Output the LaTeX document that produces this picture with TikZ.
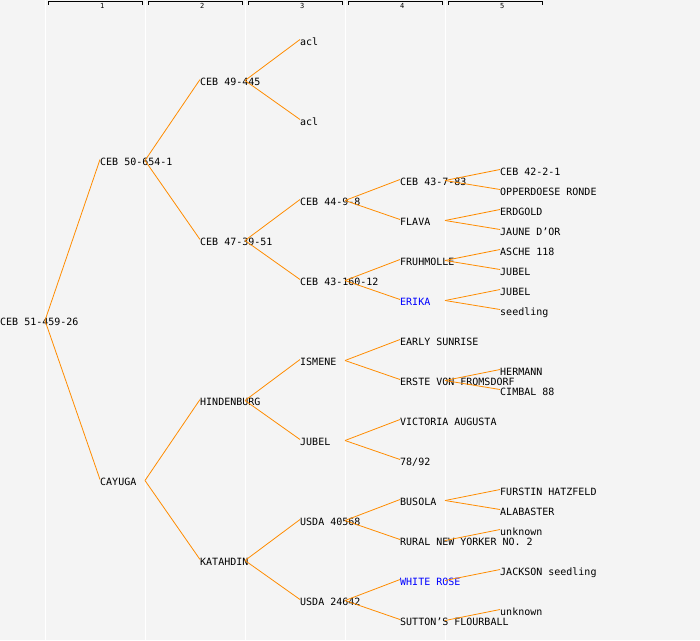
\documentclass[tikz,border=0pt]{standalone}
\usepackage{fontspec}
\setmonofont{DejaVu Sans Mono}
\definecolor{bgc}{HTML}{F4F4F4}
\definecolor{linec}{HTML}{FF8C00}
\tikzset{
  lbl/.style={anchor=west, inner sep=0pt, text height=7pt, text depth=0pt,
    font=\ttfamily\fontsize{10}{12}\selectfont},
  hilite/.style={lbl, text=blue},
  hdr/.style={anchor=west, inner sep=0pt, text height=5pt, text depth=0pt,
    font=\ttfamily\fontsize{7}{8}\selectfont},
  edge/.style={draw=linec, line width=0.8pt},
  sepline/.style={draw=white, line width=1pt},
  bracket/.style={draw=black, line width=0.8pt}
}
\begin{document}
\begin{tikzpicture}[x=1pt, y=-1pt]
  \fill[bgc] (0,0) rectangle (700,640);
  \useasboundingbox (0,0) rectangle (700,640);
  % column separators and headers
  \foreach \x in {45,145,245,345,445}
    \draw[sepline] (\x,0) -- (\x,640);
  \foreach \i in {1,...,5} {
    \draw[bracket] ({100*\i-52},4.5) -- ({100*\i-52},1.5) -- ({100*\i+42},1.5) -- ({100*\i+42},4.5);
    \node[hdr] (col\i) at (100*\i,6) {\i};
  }
  % generation 0 and 1
  \node[lbl] (root) at (0,322) {CEB 51-459-26};
  \node[lbl] (ceb50) at (100,162) {CEB 50-654-1};
  \node[lbl] (cayuga) at (100,482) {CAYUGA};
  % generation 2
  \node[lbl] (ceb49) at (200,82) {CEB 49-445};
  \node[lbl] (ceb47) at (200,242) {CEB 47-39-51};
  \node[lbl] (hindenburg) at (200,402) {HINDENBURG};
  \node[lbl] (katahdin) at (200,562) {KATAHDIN};
  % generation 3
  \node[lbl] (acla) at (300,42) {acl};
  \node[lbl] (aclb) at (300,122) {acl};
  \node[lbl] (ceb44) at (300,202) {CEB 44-9-8};
  \node[lbl] (ceb43a) at (300,282) {CEB 43-160-12};
  \node[lbl] (ismene) at (300,362) {ISMENE};
  \node[lbl] (jubela) at (300,442) {JUBEL};
  \node[lbl] (usdaa) at (300,522) {USDA 40568};
  \node[lbl] (usdab) at (300,602) {USDA 24642};
  % generation 4
  \node[lbl] (ceb43b) at (400,182) {CEB 43-7-83};
  \node[lbl] (flava) at (400,222) {FLAVA};
  \node[lbl] (fruhmolle) at (400,262) {FRUHMOLLE};
  \node[hilite] (erika) at (400,302) {ERIKA};
  \node[lbl] (early) at (400,342) {EARLY SUNRISE};
  \node[lbl] (erste) at (400,382) {ERSTE VON FROMSDORF};
  \node[lbl] (victoria) at (400,422) {VICTORIA AUGUSTA};
  \node[lbl] (nr7892) at (400,462) {78/92};
  \node[lbl] (busola) at (400,502) {BUSOLA};
  \node[lbl] (rural) at (400,542) {RURAL NEW YORKER NO. 2};
  \node[hilite] (whiterose) at (400,582) {WHITE ROSE};
  \node[lbl] (sutton) at (400,622) {SUTTON’S FLOURBALL};
  % generation 5
  \node[lbl] (ceb42) at (500,172) {CEB 42-2-1};
  \node[lbl] (opper) at (500,192) {OPPERDOESE RONDE};
  \node[lbl] (erdgold) at (500,212) {ERDGOLD};
  \node[lbl] (jaune) at (500,232) {JAUNE D’OR};
  \node[lbl] (asche) at (500,252) {ASCHE 118};
  \node[lbl] (jubelb) at (500,272) {JUBEL};
  \node[lbl] (jubelc) at (500,292) {JUBEL};
  \node[lbl] (seedling) at (500,312) {seedling};
  \node[lbl] (hermann) at (500,372) {HERMANN};
  \node[lbl] (cimbal) at (500,392) {CIMBAL 88};
  \node[lbl] (furstin) at (500,492) {FURSTIN HATZFELD};
  \node[lbl] (alabaster) at (500,512) {ALABASTER};
  \node[lbl] (unknowna) at (500,532) {unknown};
  \node[lbl] (jackson) at (500,572) {JACKSON seedling};
  \node[lbl] (unknownb) at (500,612) {unknown};
  % parent -> child links
  \foreach \p/\c in {root/ceb50, root/cayuga,
      ceb50/ceb49, ceb50/ceb47, cayuga/hindenburg, cayuga/katahdin,
      ceb49/acla, ceb49/aclb, ceb47/ceb44, ceb47/ceb43a,
      hindenburg/ismene, hindenburg/jubela, katahdin/usdaa, katahdin/usdab,
      ceb44/ceb43b, ceb44/flava, ceb43a/fruhmolle, ceb43a/erika,
      ismene/early, ismene/erste, jubela/victoria, jubela/nr7892,
      usdaa/busola, usdaa/rural, usdab/whiterose, usdab/sutton,
      ceb43b/ceb42, ceb43b/opper, flava/erdgold, flava/jaune,
      fruhmolle/asche, fruhmolle/jubelb, erika/jubelc, erika/seedling,
      erste/hermann, erste/cimbal, busola/furstin, busola/alabaster,
      rural/unknowna, whiterose/jackson, sutton/unknownb}
    \draw[edge] ([xshift=45pt,yshift=1.5pt]\p.west) -- ([yshift=2.5pt]\c.west);
\end{tikzpicture}
\end{document}
